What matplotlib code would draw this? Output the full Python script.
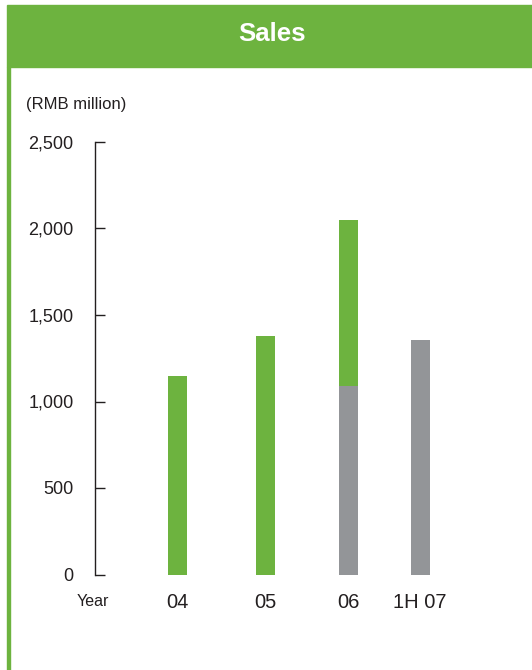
import matplotlib
matplotlib.use("Agg")
import matplotlib.pyplot as plt
from matplotlib.patches import Rectangle

plt.rcParams['font.family'] = ['Liberation Sans', 'DejaVu Sans']

years = ['04', '05', '06', '1H 07']
gray_part = [0, 0, 1090, 1355]
green_part = [1148, 1380, 960, 0]
yticks = [0, 500, 1000, 1500, 2000, 2500]
ytick_labels = ['0', '500', '1,000', '1,500', '2,000', '2,500']

green = '#6db33f'
gray = '#939598'
dark = '#231f20'

W, H = 532, 670
fig = plt.figure(figsize=(W / 100, H / 100), dpi=100)

# header band and left border
fig.patches.append(Rectangle((7 / W, 1 - 67 / H), 1 - 7 / W, 62 / H,
                             transform=fig.transFigure, color=green, zorder=0))
fig.patches.append(Rectangle((7 / W, 0), 2.8 / W, 1 - 67 / H,
                             transform=fig.transFigure, color=green, zorder=0))
fig.text(272 / W, 1 - 34 / H, 'Sales', color='white', fontsize=18.5,
         fontweight='bold', ha='center', va='center')
fig.text(26 / W, 1 - 105 / H, '(RMB million)', color=dark, fontsize=12,
         ha='left', va='center')

# axes: left spine at x=95px, from y=142 to y=574.5
ax = fig.add_axes([95 / W, 1 - 574.5 / H, (500 - 95) / W, (574.5 - 142) / H])
xpos = [0, 1, 1.943, 2.756]
width = 0.216
ax.bar(xpos, gray_part, width=width, color=gray)
ax.bar(xpos, green_part, width=width, bottom=gray_part, color=green)

ax.set_xlim(-0.9375, 3.665)
ax.set_ylim(0, 2500)
ax.set_yticks(yticks)
ax.set_yticklabels(ytick_labels)
ax.set_xticks(xpos)
ax.set_xticklabels(years)

for s in ['top', 'right', 'bottom']:
    ax.spines[s].set_visible(False)
ax.spines['left'].set_color(dark)
ax.spines['left'].set_linewidth(1)
ax.tick_params(axis='y', direction='in', length=7.2, width=1, color=dark,
               labelsize=13, labelcolor=dark, pad=15.5)
ax.tick_params(axis='x', length=0, labelsize=14.5, labelcolor=dark, pad=13)

fig.text(93 / W, 1 - 602 / H, 'Year', color=dark, fontsize=11.5,
         ha='center', va='center')

fig.savefig('out.png', dpi=100)
